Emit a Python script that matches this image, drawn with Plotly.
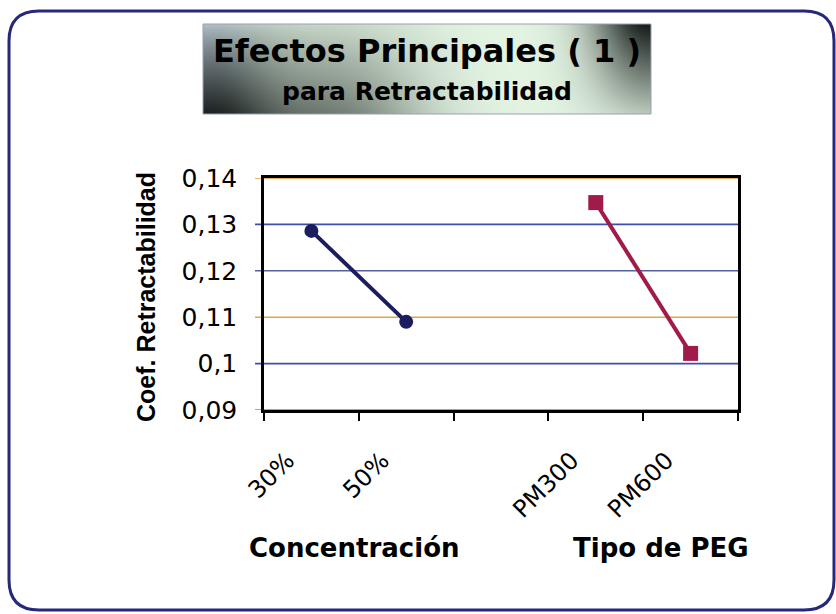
import base64
import struct
import zlib

import numpy as np
import plotly.graph_objects as go

# ---------------------------------------------------------------- data
categories = ["30%", "50%", " ", "PM300", "PM600"]

conc_levels = ["30%", "50%"]
conc_values = [0.1286, 0.1090]

peg_levels = ["PM300", "PM600"]
peg_values = [0.1347, 0.1022]

y_ticks = [0.09, 0.10, 0.11, 0.12, 0.13, 0.14]
grid_colors = ["#7a86b8", "#3f4ea6", "#e4a244", "#57609f", "#3f4ea6", "#e29a3e"]

title_main = "Efectos Principales ( 1 )"
title_sub = "para Retractabilidad"
y_title = "Coef. Retractabilidad"
group_titles = ["Concentración", "Tipo de PEG"]

# ---------------------------------------------------------------- geometry
W, H = 836, 614
PL, PR, PT, PB = 264, 738, 178, 410  # plot area in pixels


def px_x(p):
    return (p - PL) / (PR - PL)


def px_y(p):
    return (PB - p) / (PB - PT)


def rounded_rect_path(x0, y0, x1, y1, r):
    pts = [
        ("M", [(x0 + r, y0)]),
        ("L", [(x1 - r, y0)]),
        ("Q", [(x1, y0), (x1, y0 + r)]),
        ("L", [(x1, y1 - r)]),
        ("Q", [(x1, y1), (x1 - r, y1)]),
        ("L", [(x0 + r, y1)]),
        ("Q", [(x0, y1), (x0, y1 - r)]),
        ("L", [(x0, y0 + r)]),
        ("Q", [(x0, y0), (x0 + r, y0)]),
    ]
    out = []
    for cmd, coords in pts:
        out.append(cmd + " ".join(f"{px_x(a):.5f},{px_y(b):.5f}" for a, b in coords))
    return " ".join(out) + " Z"


# ---------------------------------------------------------------- title banner texture
def banner_png(w, h):
    u = np.linspace(0, 1, w)[None, :]
    v = np.linspace(0, 1, h)[:, None]
    left = np.exp(-(u / 0.17) ** 2) * (0.25 + 0.75 * v ** 0.8)
    mid = np.exp(-((u - 0.30) / 0.20) ** 2) * (0.25 + 0.75 * v)
    right = np.exp(-((1 - u) / 0.13) ** 2) * (1 - 0.8 * v)
    b = 0.95 - 0.80 * left - 0.45 * mid - 0.88 * right
    b = np.clip(b, 0.06, 1)
    r = np.clip(b * 0.92 + 0.02, 0, 1)
    g = np.clip(b * 0.97 + 0.04, 0, 1)
    bl = np.clip(b * 0.90 + 0.04 + 0.08 * (1 - v) * np.exp(-(u / 0.12) ** 2), 0, 1)
    img = (np.stack([r, g, bl], axis=-1) * 255).astype(np.uint8)
    raw = b"".join(b"\x00" + img[row].tobytes() for row in range(h))

    def chunk(tag, data):
        c = struct.pack(">I", len(data)) + tag + data
        return c + struct.pack(">I", zlib.crc32(tag + data) & 0xFFFFFFFF)

    png = b"\x89PNG\r\n\x1a\n"
    png += chunk(b"IHDR", struct.pack(">IIBBBBB", w, h, 8, 2, 0, 0, 0))
    png += chunk(b"IDAT", zlib.compress(raw, 9))
    png += chunk(b"IEND", b"")
    return "data:image/png;base64," + base64.b64encode(png).decode()


BX0, BY0, BX1, BY1 = 203, 24, 651, 114

# ---------------------------------------------------------------- figure
fig = go.Figure()

# invisible trace that fixes the full category order (incl. the gap)
fig.add_trace(go.Scatter(x=categories, y=[None] * len(categories), mode="markers",
                         showlegend=False, hoverinfo="skip"))

fig.add_trace(go.Scatter(
    x=conc_levels, y=conc_values, mode="lines+markers", name="Concentración",
    line=dict(color="#1b1d5c", width=4),
    marker=dict(symbol="circle", size=14, color="#1b1d5c"),
    showlegend=False,
))
fig.add_trace(go.Scatter(
    x=peg_levels, y=peg_values, mode="lines+markers", name="Tipo de PEG",
    line=dict(color="#a01b4c", width=4),
    marker=dict(symbol="square", size=15, color="#a01b4c"),
    showlegend=False,
))

shapes = []
# coloured grid lines, extended to the left as tick stubs
for yv, col in zip(y_ticks, grid_colors):
    shapes.append(dict(type="line", xref="paper", yref="y", x0=-9 / (PR - PL), x1=1,
                       y0=yv, y1=yv, line=dict(color=col, width=1.6), layer="below"))

# outer rounded frame
shapes.append(dict(type="path", xref="paper", yref="paper",
                   path=rounded_rect_path(9, 11, 834, 610, 30),
                   line=dict(color="#26287a", width=3), fillcolor="rgba(0,0,0,0)"))
# banner outline
shapes.append(dict(type="rect", xref="paper", yref="paper",
                   x0=px_x(BX0), x1=px_x(BX1), y0=px_y(BY1), y1=px_y(BY0),
                   line=dict(color="#9aa0b0", width=1)))

fig.update_layout(
    width=W, height=H, autosize=False,
    margin=dict(l=PL, r=W - PR, t=PT, b=H - PB, pad=0),
    paper_bgcolor="white", plot_bgcolor="white",
    separators=",.",
    shapes=shapes,
    images=[dict(source=banner_png(BX1 - BX0, BY1 - BY0), xref="paper", yref="paper",
                 x=px_x(BX0), y=px_y(BY0), sizex=px_x(BX1) - px_x(BX0),
                 sizey=px_y(BY0) - px_y(BY1), xanchor="left", yanchor="top",
                 sizing="stretch", layer="below")],
    xaxis=dict(
        type="category", categoryorder="array", categoryarray=categories,
        range=[-0.5, len(categories) - 0.5], tickson="boundaries",
        ticks="outside", ticklen=8, tickwidth=1.5, tickcolor="black",
        tickangle=-45, ticklabelstandoff=24, ticklabelshift=-24,
        tickfont=dict(family="DejaVu Sans", size=24, color="black"),
        showline=True, linecolor="black", linewidth=2.5, mirror=True,
        showgrid=False, zeroline=False, fixedrange=True,
    ),
    yaxis=dict(
        range=[0.09, 0.14], tickvals=y_ticks,
        ticks="outside", ticklen=9, tickcolor="rgba(0,0,0,0)",
        ticklabelstandoff=10,
        tickfont=dict(family="DejaVu Sans", size=25, color="black"),
        showline=True, linecolor="black", linewidth=2.5, mirror=True,
        showgrid=False, zeroline=False, fixedrange=True,
    ),
    annotations=[
        dict(text=title_main, x=px_x(427), y=px_y(51), xref="paper", yref="paper",
             showarrow=False, xanchor="center", yanchor="middle",
             font=dict(family="DejaVu Sans", size=32, color="black", weight="bold")),
        dict(text=title_sub, x=px_x(427), y=px_y(91), xref="paper", yref="paper",
             showarrow=False, xanchor="center", yanchor="middle",
             font=dict(family="DejaVu Sans", size=25, color="black", weight="bold")),
        dict(text=y_title, x=px_x(146), y=px_y(297), xref="paper", yref="paper",
             showarrow=False, textangle=-90, xanchor="center", yanchor="middle",
             font=dict(family="Liberation Sans", size=25, color="black", weight="bold")),
        dict(text=group_titles[0], x=px_x(354), y=px_y(548), xref="paper", yref="paper",
             showarrow=False, xanchor="center", yanchor="middle",
             font=dict(family="DejaVu Sans", size=26, color="black", weight="bold")),
        dict(text=group_titles[1], x=px_x(661), y=px_y(548), xref="paper", yref="paper",
             showarrow=False, xanchor="center", yanchor="middle",
             font=dict(family="DejaVu Sans", size=26, color="black", weight="bold")),
    ],
)

fig.write_html("out.html", config={"displayModeBar": False})
